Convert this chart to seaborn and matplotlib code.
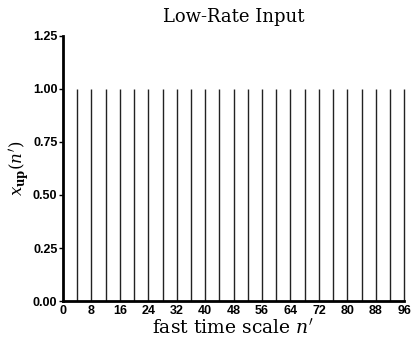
import matplotlib
matplotlib.use("Agg")
import matplotlib.pyplot as plt
import seaborn as sns
import pandas as pd

# Impulse train sampled on the fast time scale
sample_index = [4, 8, 12, 16, 20, 24, 28, 32, 36, 40, 44, 48,
                52, 56, 60, 64, 68, 72, 76, 80, 84, 88, 92, 96]
amplitude = [1.0, 1.0, 1.0, 1.0, 1.0, 1.0, 1.0, 1.0, 1.0, 1.0, 1.0, 1.0,
             1.0, 1.0, 1.0, 1.0, 1.0, 1.0, 1.0, 1.0, 1.0, 1.0, 1.0, 1.0]
x_ticks = [0, 8, 16, 24, 32, 40, 48, 56, 64, 72, 80, 88, 96]
y_ticks = [0.00, 0.25, 0.50, 0.75, 1.00, 1.25]

df = pd.DataFrame({"n": sample_index, "x": amplitude})

sns.set_theme(style="ticks")
plt.rcParams["mathtext.fontset"] = "dejavuserif"

fig = plt.figure(figsize=(4.12, 3.39), dpi=100)
ax = fig.add_axes([0.153, 0.112, 0.828, 0.782])

# draw the stems (no markers)
ax.vlines(df["n"], 0, df["x"], colors="#222222", linewidth=1.0, clip_on=False)

ax.set_xlim(0, 96)
ax.set_ylim(0, 1.25)
ax.set_xticks(x_ticks)
ax.set_yticks(y_ticks)
ax.set_yticklabels([f"{v:.2f}" for v in y_ticks])

for lab in ax.get_xticklabels() + ax.get_yticklabels():
    lab.set_fontfamily("Liberation Sans")
    lab.set_fontweight("bold")
    lab.set_fontsize(9)
    lab.set_color("black")

ax.tick_params(axis="x", length=0, pad=3)
ax.tick_params(axis="y", direction="out", length=3, width=1, color="black", pad=1)

sns.despine(ax=ax)
for s in ("left", "bottom"):
    ax.spines[s].set_linewidth(2.0)
    ax.spines[s].set_color("black")

ax.set_title("Low-Rate Input", fontfamily="DejaVu Serif", fontsize=13,
             color="black", pad=10)
ax.set_xlabel(r"fast time scale $n'$", fontfamily="DejaVu Serif",
              fontsize=13.5, color="black", labelpad=1)
ax.set_ylabel(r"$x_{\mathbf{up}}(n')$", fontsize=12, color="black",
              labelpad=1)

fig.savefig("out.png", dpi=100)
